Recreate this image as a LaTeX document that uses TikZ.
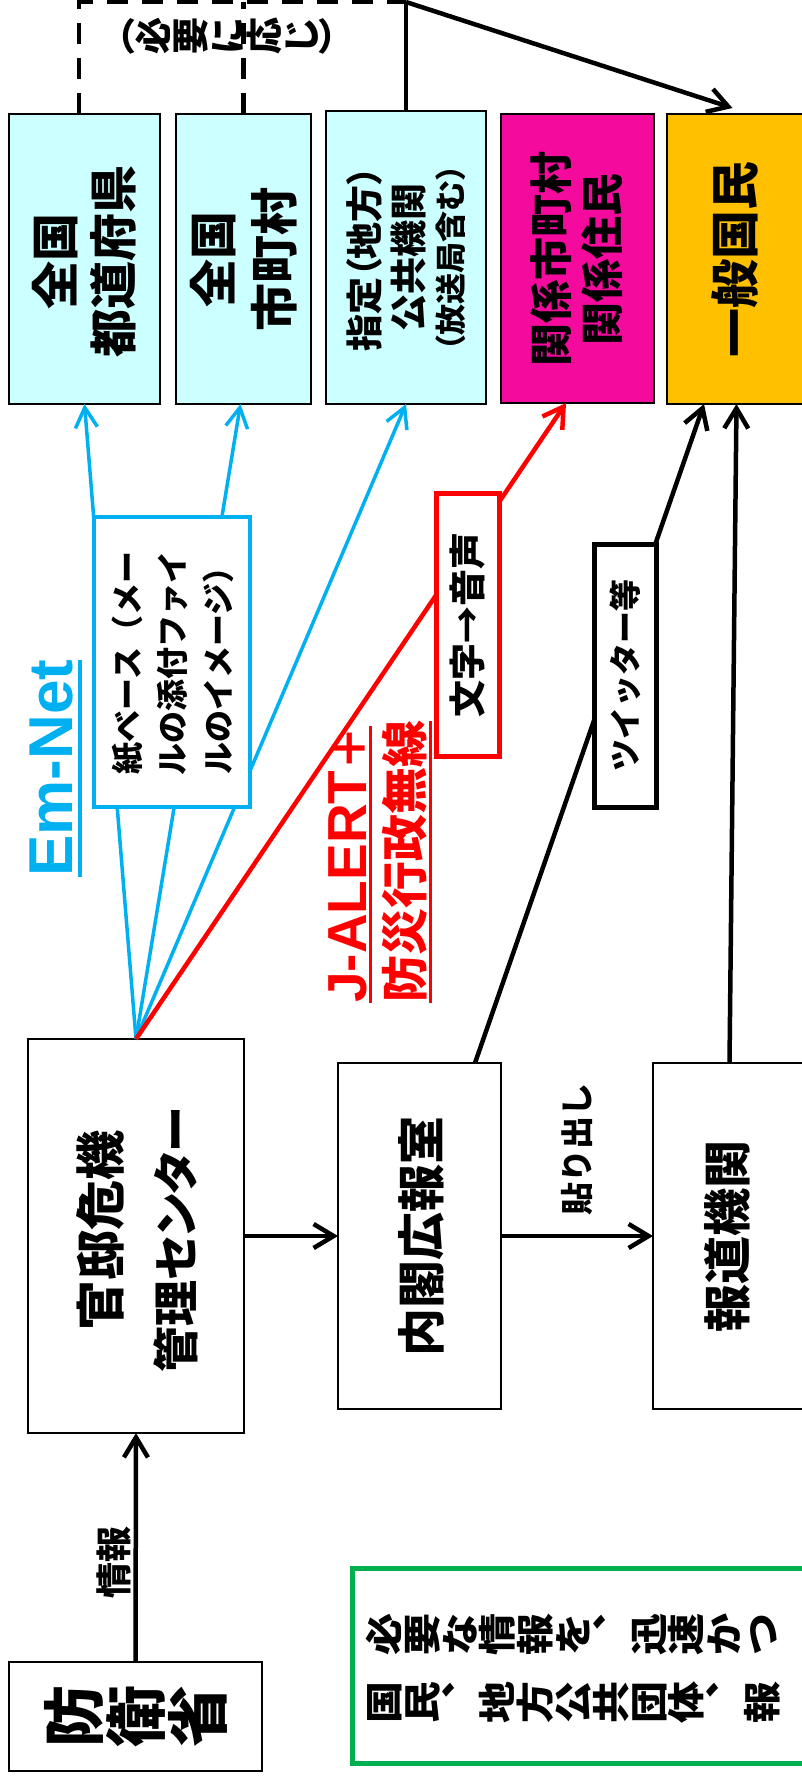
\documentclass[tikz,border=0pt]{standalone}
\usepackage{fontspec}
\setmainfont{Noto Sans CJK JP}
\newfontfamily\lat{Liberation Sans}
\usepackage{graphicx}
\usetikzlibrary{arrows.meta,calc}
\definecolor{emcyan}{HTML}{00B0F0}
\definecolor{lcyan}{HTML}{CCFFFF}
\definecolor{mag}{RGB}{244,10,157}
\definecolor{orng}{HTML}{FFC000}
\definecolor{grn}{HTML}{00B050}
\definecolor{jred}{HTML}{FF0000}
\newcommand\fs[1]{\fontsize{#1}{#1}\selectfont}
\newcommand\pa{\addfontfeature{RawFeature=+palt}}
\ExplSyntaxOn
\NewDocumentCommand\vt{m}{\tl_map_inline:nn{#1}{\rotatebox[origin=c]{90}{\makebox[1em][c]{\rule[-0.12em]{0pt}{1em}##1}}}}
\ExplSyntaxOff
\begin{document}
\begin{tikzpicture}[x=1pt,y=-1pt,
  box/.style={draw=black, line width=2pt, inner sep=0pt, outer sep=0pt},
  lbl/.style={rotate=90, inner sep=0pt, align=center},
  blk/.style={draw=black, line width=4.5pt, -{Straight Barb[length=20pt,width=24pt]}},
  cyn/.style={draw=emcyan, line width=3.5pt, -{Straight Barb[length=20pt,width=22pt]}},
  rdl/.style={draw=jred, line width=4.5pt, -{Straight Barb[length=20pt,width=24pt]}},
  dsh/.style={draw=black, line width=4.5pt, dash pattern=on 21pt off 14pt},
]
\useasboundingbox (0,0) rectangle (802,1782);
\clip (0,0) rectangle (802,1782);

% top row boxes
\node[box, fill=lcyan, minimum width=151pt, minimum height=290pt] (b1) at (84.5,259) {};
\node[box, fill=lcyan, minimum width=135pt, minimum height=290pt] (b2) at (243.5,259) {};
\node[box, fill=lcyan, minimum width=160pt, minimum height=293pt] (b3) at (406,257.5) {};
\node[box, fill=mag, minimum width=153pt, minimum height=289pt] (b4) at (577.5,258.5) {};
\node[box, fill=orng, minimum width=139pt, minimum height=290pt] (b5) at (736.5,259) {};

\node[lbl, font=\bfseries\fontsize{48}{58}\selectfont] (t1) at (84,261) {全国\\都道府県};
\node[lbl, font=\bfseries\fontsize{48}{61}\selectfont] (t2) at (243.5,259) {全国\\市町村};
\node[lbl, font=\bfseries\fs{37}\pa] (t3a) at (364,259) {指定（地方）};
\node[lbl, font=\bfseries\fs{37}\pa] (t3b) at (409,257) {公共機関};
\node[lbl, font=\bfseries\fs{31}\pa] (t3c) at (451,258) {（放送局含む）};
\node[lbl, font=\bfseries\fontsize{43}{51}\selectfont] (t4) at (577,259) {関係市町村\\関係住民};
\node[lbl, font=\bfseries\fs{49}] (t5) at (735,259) {一般国民};

% lower boxes
\node[box, minimum width=216pt, minimum height=394pt] (k) at (136,1236) {};
\node[lbl, font=\bfseries\fs{50}] (k1) at (100,1230) {官邸危機};
\node[lbl, font=\bfseries\fs{46}\pa] (k2) at (176,1240) {管理センター};
\node[box, minimum width=163pt, minimum height=346pt] (n) at (419.5,1236) {};
\node[lbl, font=\bfseries\fs{48}] (nt) at (421,1236) {内閣広報室};
\node[box, minimum width=153pt, minimum height=346pt] (h) at (729.5,1236) {};
\node[lbl, font=\bfseries\fs{48}] (ht) at (727,1236) {報道機関};
\node[box, minimum width=253pt, minimum height=109pt] (d) at (135.5,1716.5) {};
\node[font=\bfseries\fs{62}, inner sep=0pt] (dt) at (d.center) {\vt{防衛省}};
\node[box, draw=grn, line width=5pt, minimum width=460pt, minimum height=195pt] (g) at (582,1665.5) {};
\node[font=\bfseries\fs{42}, inner sep=0pt, anchor=west] (g1) at (365,1634) {\scalebox{0.9}[1]{\vt{必要な情報を︑迅速かつ}}};
\node[font=\bfseries\fs{42}, inner sep=0pt, anchor=west] (g2) at (365,1702) {\scalebox{0.9}[1]{\vt{国民︑地方公共団体︑報}}};

% top dashed / solid connectors
\coordinate (c1) at (79,2);
\coordinate (c2) at (243.5,2);
\coordinate (c3) at (406,2);
\draw[dsh] (b1.north -| c1) -- (c1) -- (c3);
\draw[dsh] (b2.north) -- (c2);
\draw[line width=4.5pt] (b3.north) -- (c3);
\draw[blk] (c3) -- ($(b5.north)+(-4,-6)$);
\node[font=\bfseries\fs{37}, inner sep=0pt] (nec) at (227,36) {{\pa（}\vt{必要に応じ}{\pa）}};

% fan connectors
\draw[cyn] (k.north) -- (b1.south);
\draw[cyn] (k.north) -- ($(b2.south)+(-3,0)$);
\draw[cyn] (k.north) -- (b3.south);
\draw[rdl] (k.north) -- ($(b4.south)+(-11.5,0)$);
\draw[blk] ($(n.north east)+(-26,0)$) -- ($(b5.south)+(-32.5,0)$);
\draw[blk] (h.north) -- (b5.south);
\draw[blk] (k.east) -- (n.west);
\draw[blk] (n.east) -- (h.west);
\draw[blk] (d.north) -- (k.south);

% overlay boxes
\node[box, draw=emcyan, line width=4.5pt, fill=white, minimum width=156pt, minimum height=290pt] (em) at (172,662) {};
\node[lbl, font=\bfseries\fontsize{32}{45.5}\selectfont] (emt) at (172.5,663) {紙ベース（メー\\ルの添付ファイ\\ルのイメージ）};
\node[box, draw=jred, line width=5pt, fill=white, minimum width=63pt, minimum height=263pt] (rb) at (467.5,624.5) {};
\node[lbl, font=\bfseries\fs{37}] (rbt) at (rb.center) {文字→音声};
\node[box, line width=5pt, fill=white, minimum width=62pt, minimum height=263pt] (tw) at (625,675.5) {};
\node[lbl, font=\bfseries\fs{32}] (twt) at (tw.center) {ツイッター等};

% labels
\node[lbl, font=\bfseries\fs{33}] (hari) at (577,1149) {貼り出し};
\node[lbl, font=\bfseries\fs{36}] (jo) at (114,1562) {情報};

\node[rotate=90, anchor=base west, inner sep=0pt, text=emcyan, font=\lat\bfseries\fs{62}] (emnet) at (72,877) {Em-Net};
\draw[emcyan, line width=3.5pt] ($(emnet.base west)+(8,0)$) -- ($(emnet.base east)+(8,0)$);
\node[rotate=90, anchor=base west, inner sep=0pt, text=jred, font=\lat\bfseries\fs{55}] (ja) at (366,1003) {J-ALERT{\rmfamily\bfseries\fs{44}＋}};
\draw[jred, line width=3pt] ($(ja.base west)+(4,0)$) -- ($(ja.base east)+(4,0)$);
\node[rotate=90, anchor=base west, inner sep=0pt, text=jred, font=\bfseries\fs{47}] (bo) at (422,1003) {防災行政無線};
\draw[jred, line width=3pt] ($(bo.base west)+(8,0)$) -- ($(bo.base east)+(8,0)$);
\end{tikzpicture}
\end{document}
